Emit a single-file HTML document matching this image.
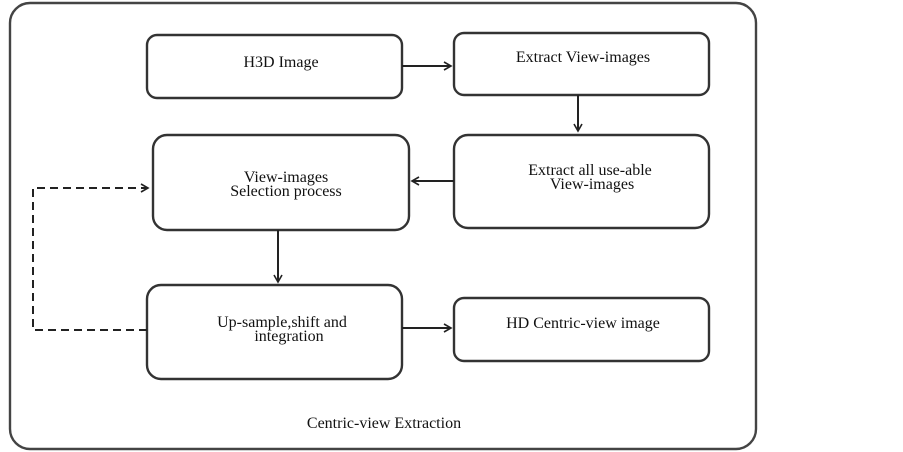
<!DOCTYPE html>
<html><head><meta charset="utf-8"><style>
body{margin:0;background:#fff;}
svg{display:block;}
svg text{font-family:"Liberation Serif","DejaVu Serif",serif;font-size:16px;fill:#111;text-anchor:middle;}
</style></head><body>
<svg width="903" height="452" viewBox="0 0 903 452">
<defs><marker id="a" markerWidth="10" markerHeight="10" refX="8" refY="5" orient="auto" markerUnits="userSpaceOnUse"><path d="M1,1 L8,5 L1,9" fill="none" stroke="#222" stroke-width="1.6"/></marker></defs>
<rect x="10" y="3" width="746" height="446" rx="20" fill="none" stroke="#444" stroke-width="2.4"/>
<g fill="#fff" stroke="#333" stroke-width="2.4">
<rect x="147" y="35" width="255" height="63" rx="10"/>
<rect x="454" y="33" width="255" height="62" rx="10"/>
<rect x="153" y="135" width="256" height="95" rx="14"/>
<rect x="454" y="135" width="255" height="93" rx="14"/>
<rect x="147" y="285" width="255" height="94" rx="14"/>
<rect x="454" y="298" width="255" height="63" rx="10"/>
</g>
<g stroke="#222" stroke-width="2" fill="none">
<line x1="402" y1="66" x2="451" y2="66" marker-end="url(#a)"/>
<line x1="578" y1="95" x2="578" y2="131" marker-end="url(#a)"/>
<line x1="454" y1="181" x2="412" y2="181" marker-end="url(#a)"/>
<line x1="278" y1="230" x2="278" y2="282" marker-end="url(#a)"/>
<line x1="402" y1="328" x2="451" y2="328" marker-end="url(#a)"/>
<polyline points="147,330 33,330 33,188 148,188" stroke-dasharray="8,5" marker-end="url(#a)"/>
</g>
<g font-family="Liberation Serif, serif" font-size="16">
<text x="281" y="67" font-family="Liberation Serif, serif">H3D Image</text>
<text x="583" y="62" font-family="Liberation Serif, serif">Extract View-images</text>
<text x="286" y="182" font-family="Liberation Serif, serif">View-images</text>
<text x="286" y="196" font-family="Liberation Serif, serif">Selection process</text>
<text x="590" y="175" font-family="Liberation Serif, serif">Extract all use-able</text>
<text x="592" y="189" font-family="Liberation Serif, serif">View-images</text>
<text x="282" y="327" font-family="Liberation Serif, serif">Up-sample,shift and</text>
<text x="289" y="341" font-family="Liberation Serif, serif">integration</text>
<text x="583" y="328" font-family="Liberation Serif, serif">HD Centric-view image</text>
<text x="384" y="428" font-family="Liberation Serif, serif">Centric-view Extraction</text>
</g>
</svg>
</body></html>
